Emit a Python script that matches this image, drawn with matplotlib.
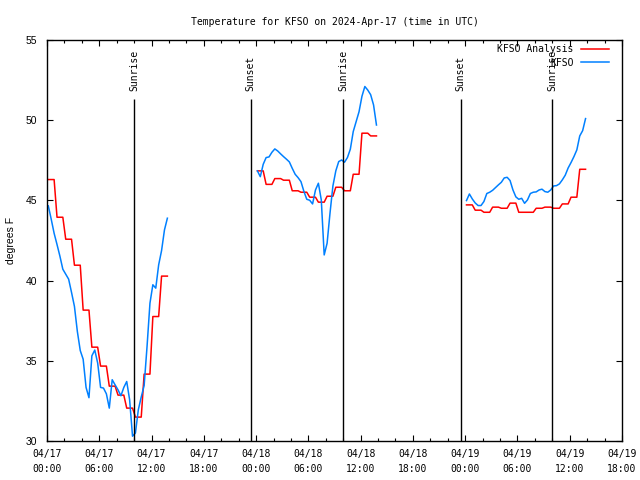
import numpy as np
import matplotlib
matplotlib.use('Agg')
import matplotlib.pyplot as plt
from matplotlib.ticker import MultipleLocator, FixedLocator

# ---------------- data ----------------
day_starts = [0, 24, 48]          # hours since 04/17 00:00 UTC
obs_offset = 0.15                 # first report time within hour
per_hour = 3                      # reports per hour

analysis_day1 = [46.3, 43.95, 42.58, 40.96, 38.16, 35.85, 34.67, 33.42, 32.86, 32.05, 31.49, 34.17, 37.76, 40.28]
analysis_day2 = [46.84, 46.0, 46.36, 46.26, 45.6, 45.51, 45.2, 44.89, 45.26, 45.82, 45.6, 46.63, 49.19, 49.02]
analysis_day3 = [44.72, 44.39, 44.26, 44.58, 44.51, 44.83, 44.26, 44.26, 44.51, 44.58, 44.51, 44.78, 45.2, 46.94]

obs_day1 = [44.66, 43.83, 42.95, 42.25, 41.52, 40.71, 40.4, 40.09, 39.26, 38.39, 36.83, 35.64, 35.1, 33.34,
            32.7, 35.31, 35.67, 34.86, 33.34, 33.3, 32.94, 32.05, 33.82, 33.5, 33.19, 32.82, 33.34, 33.71,
            32.57, 30.3, 30.5, 31.95, 32.74, 33.46, 35.89, 38.59, 39.74, 39.53, 40.98, 41.87, 43.16, 43.89]
obs_day2 = [46.84, 46.48, 47.25, 47.67, 47.71, 48.0, 48.21, 48.08, 47.9, 47.73, 47.57, 47.4, 47.0, 46.63,
            46.42, 46.17, 45.57, 45.07, 45.01, 44.78, 45.65, 46.07, 45.03, 41.6, 42.33, 44.2, 45.9, 46.84,
            47.42, 47.52, 47.38, 47.67, 48.19, 49.29, 49.91, 50.53, 51.49, 52.1, 51.88, 51.59, 50.95, 49.7]
obs_day3 = [44.99, 45.4, 45.09, 44.84, 44.68, 44.68, 44.93, 45.43, 45.51, 45.63, 45.8, 45.97, 46.13, 46.4,
            46.44, 46.24, 45.65, 45.22, 45.07, 45.13, 44.82, 45.03, 45.43, 45.51, 45.53, 45.65, 45.7, 45.55,
            45.51, 45.65, 45.9, 45.92, 46.03, 46.28, 46.57, 47.02, 47.36, 47.73, 48.15, 49.02, 49.35, 50.1]

sun_times = [10.0, 23.4, 34.0, 47.5, 58.0]
sun_labels = ["Sunrise", "Sunset", "Sunrise", "Sunset", "Sunrise"]

tick_days = ["04/17", "04/17", "04/17", "04/17", "04/18", "04/18", "04/18", "04/18",
             "04/19", "04/19", "04/19", "04/19"]
tick_hours = ["00:00", "06:00", "12:00", "18:00"] * 3

title = "Temperature for KFSO on 2024-Apr-17 (time in UTC)"
ylabel = "degrees F"
series_names = ["KFSO Analysis", "KFSO"]
colors = ["#ff0000", "#0080ff"]

# ---------------- plot ----------------
mono = "DejaVu Sans Mono"
sans = "Liberation Sans"

fig = plt.figure(figsize=(6.4, 4.8), dpi=100)
ax = fig.add_axes([47/640, 39/480, 575/640, 401/480])

analysis = [analysis_day1, analysis_day2, analysis_day3]
obs = [obs_day1, obs_day2, obs_day3]
for i, start in enumerate(day_starts):
    a = np.repeat(np.array(analysis[i]), per_hour)
    o = np.array(obs[i])
    t = start + obs_offset + np.arange(len(o)) / per_hour
    ax.plot(t[:len(a)], a, color=colors[0], lw=1.1,
            label=series_names[0] if i == 0 else None)
    ax.plot(t, o, color=colors[1], lw=1.1,
            label=series_names[1] if i == 0 else None)

ax.vlines(sun_times, 30, 51.3, color='black', lw=1.0)
for st, sl in zip(sun_times, sun_labels):
    ax.text(st, 51.8, sl, rotation=90, ha='center', va='bottom',
            family=mono, fontsize=7)

ax.set_xlim(0, 66)
ax.set_ylim(30, 55)
ax.xaxis.set_major_locator(FixedLocator(np.arange(0, 67, 6)))
ax.xaxis.set_minor_locator(MultipleLocator(2))
ax.set_xticklabels([f"{d}\n{h}" for d, h in zip(tick_days, tick_hours)],
                   family=mono, fontsize=7, linespacing=1.6)
ax.yaxis.set_major_locator(MultipleLocator(5))
for lab in ax.get_yticklabels():
    lab.set_family(sans)
    lab.set_fontsize(7.5)
ax.tick_params(axis='both', which='both', direction='in', top=True, right=True, width=0.8)
ax.tick_params(axis='x', which='major', length=4, pad=6)
ax.tick_params(axis='x', which='minor', length=2.2)
ax.tick_params(axis='y', which='major', length=4, pad=7)
for s in ax.spines.values():
    s.set_linewidth(1.0)

ax.set_ylabel(ylabel, family=sans, fontsize=7.5)
ax.yaxis.set_label_coords(-31/575, 0.5)
ax.set_title(title, family=mono, fontsize=7, pad=11)

leg = ax.legend(loc='upper right', frameon=False, markerfirst=False,
                prop={'family': mono, 'size': 7}, handlelength=2.9,
                handletextpad=0.75, labelspacing=0.38, borderaxespad=0.0,
                borderpad=0.0, bbox_to_anchor=(609/640, 1 - 44/480),
                bbox_transform=fig.transFigure)

fig.savefig("out.png", dpi=100)
